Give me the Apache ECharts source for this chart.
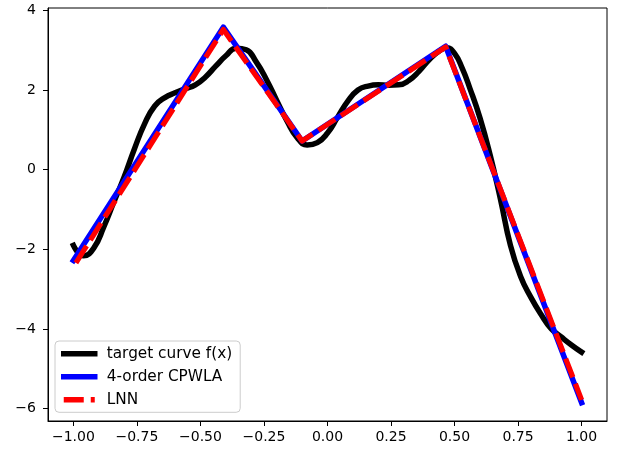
<!DOCTYPE html>
<html>
<head>
<meta charset="utf-8">
<script src="https://cdn.jsdelivr.net/npm/echarts@6/dist/echarts.min.js"></script>
<style>
html,body{margin:0;padding:0;background:#fff;}
#c{width:619px;height:452px;}
</style>
</head>
<body>
<div id="c"></div>
<script>
// ---- data ----
var targetX = [-1.00,-0.96,-0.92,-0.88,-0.84,-0.80,-0.76,-0.72,-0.68,-0.64,-0.60,-0.56,-0.52,-0.48,-0.44,-0.40,-0.36,-0.32,-0.28,-0.24,-0.20,-0.16,-0.12,-0.08,-0.04,0.00,0.04,0.08,0.12,0.16,0.20,0.24,0.28,0.32,0.36,0.40,0.44,0.47,0.50,0.53,0.56,0.60,0.64,0.68,0.72,0.76,0.80,0.84,0.88,0.92,0.96,1.00];
var targetY = [-1.90,-2.16,-1.97,-1.43,-0.80,-0.18,0.52,1.15,1.60,1.81,1.93,2.03,2.13,2.33,2.60,2.86,3.05,3.01,2.70,2.26,1.74,1.23,0.81,0.62,0.68,0.92,1.32,1.72,2.00,2.10,2.13,2.12,2.13,2.24,2.47,2.76,2.98,3.06,2.92,2.55,2.05,1.30,0.37,-0.72,-1.90,-2.68,-3.20,-3.63,-3.99,-4.20,-4.40,-4.58];
var cpwlaX = [-1.00,-0.41,-0.10,0.465,1.00];
var cpwlaY = [-2.28,3.58,0.72,3.10,-5.85];
var lnnX = [-0.99,-0.41,-0.10,0.465,1.00];
var lnnY = [-2.34,3.52,0.72,3.08,-5.78];
var xTicks = [-1.00,-0.75,-0.50,-0.25,0.00,0.25,0.50,0.75,1.00];
var yTicks = [-6,-4,-2,0,2,4];
var seriesNames = ['target curve f(x)','4-order CPWLA','LNN'];

function pairs(xs, ys){ return xs.map(function(x,i){ return [x, ys[i]]; }); }
function minus(s){ return s.replace('-', '\u2212'); }

var FONT = 'DejaVu Sans';
var chart = echarts.init(document.getElementById('c'), null, {renderer:'canvas'});
chart.setOption({
  animation:false,
  backgroundColor:'#fff',
  textStyle:{fontFamily:FONT},
  grid:{left:48, right:12, top:8, bottom:31, show:true, borderColor:'#000', borderWidth:1, containLabel:false, outerBoundsMode:'none'},
  xAxis:{
    type:'value', min:-1.1, max:1.1,
    splitLine:{show:false},
    axisLine:{show:true, onZero:false, lineStyle:{color:'#000', width:1}},
    axisTick:{show:true, inside:false, length:5, lineStyle:{color:'#000', width:1}, customValues:xTicks},
    axisLabel:{customValues:xTicks, margin:9, fontSize:14, fontFamily:FONT, color:'#000',
      formatter:function(v){ return minus(v.toFixed(2)); }}
  },
  yAxis:{
    type:'value', min:-6.31, max:4.06,
    splitLine:{show:false},
    axisLine:{show:true, onZero:false, lineStyle:{color:'#000', width:1}},
    axisTick:{show:true, inside:false, length:5, lineStyle:{color:'#000', width:1}, customValues:yTicks},
    axisLabel:{customValues:yTicks, margin:12, fontSize:14, fontFamily:FONT, color:'#000',
      formatter:function(v){ return minus(String(v)); }}
  },
  legend:{
    orient:'vertical', left:55, top:341,
    data:seriesNames,
    itemWidth:31, itemHeight:15, itemGap:7.7,
    padding:[5,8,5,6],
    itemStyle:{opacity:0},
    lineStyle:{width:5.5},
    backgroundColor:'rgba(255,255,255,0.8)', borderColor:'#cccccc', borderWidth:1, borderRadius:4,
    textStyle:{fontSize:15.3, lineHeight:15.3, fontFamily:FONT, color:'#000', padding:[0,0,0,7]}
  },
  series:[
    {name:seriesNames[0], type:'line', data:pairs(targetX,targetY), smooth:0.5, showSymbol:false, symbol:'none',
      lineStyle:{color:'#000', width:5.5, cap:'square', join:'round'}, itemStyle:{color:'#000'}, z:2},
    {name:seriesNames[1], type:'line', data:pairs(cpwlaX,cpwlaY), showSymbol:false, symbol:'none',
      lineStyle:{color:'#0000ff', width:5.5, cap:'square', join:'round'}, itemStyle:{color:'#0000ff'}, z:3},
    {name:seriesNames[2], type:'line', data:pairs(lnnX,lnnY), showSymbol:false, symbol:'none',
      lineStyle:{color:'#ff0000', width:5.2, type:[20,7], cap:'butt', join:'round'}, itemStyle:{color:'#ff0000'}, z:4}
  ]
});
</script>
</body>
</html>
